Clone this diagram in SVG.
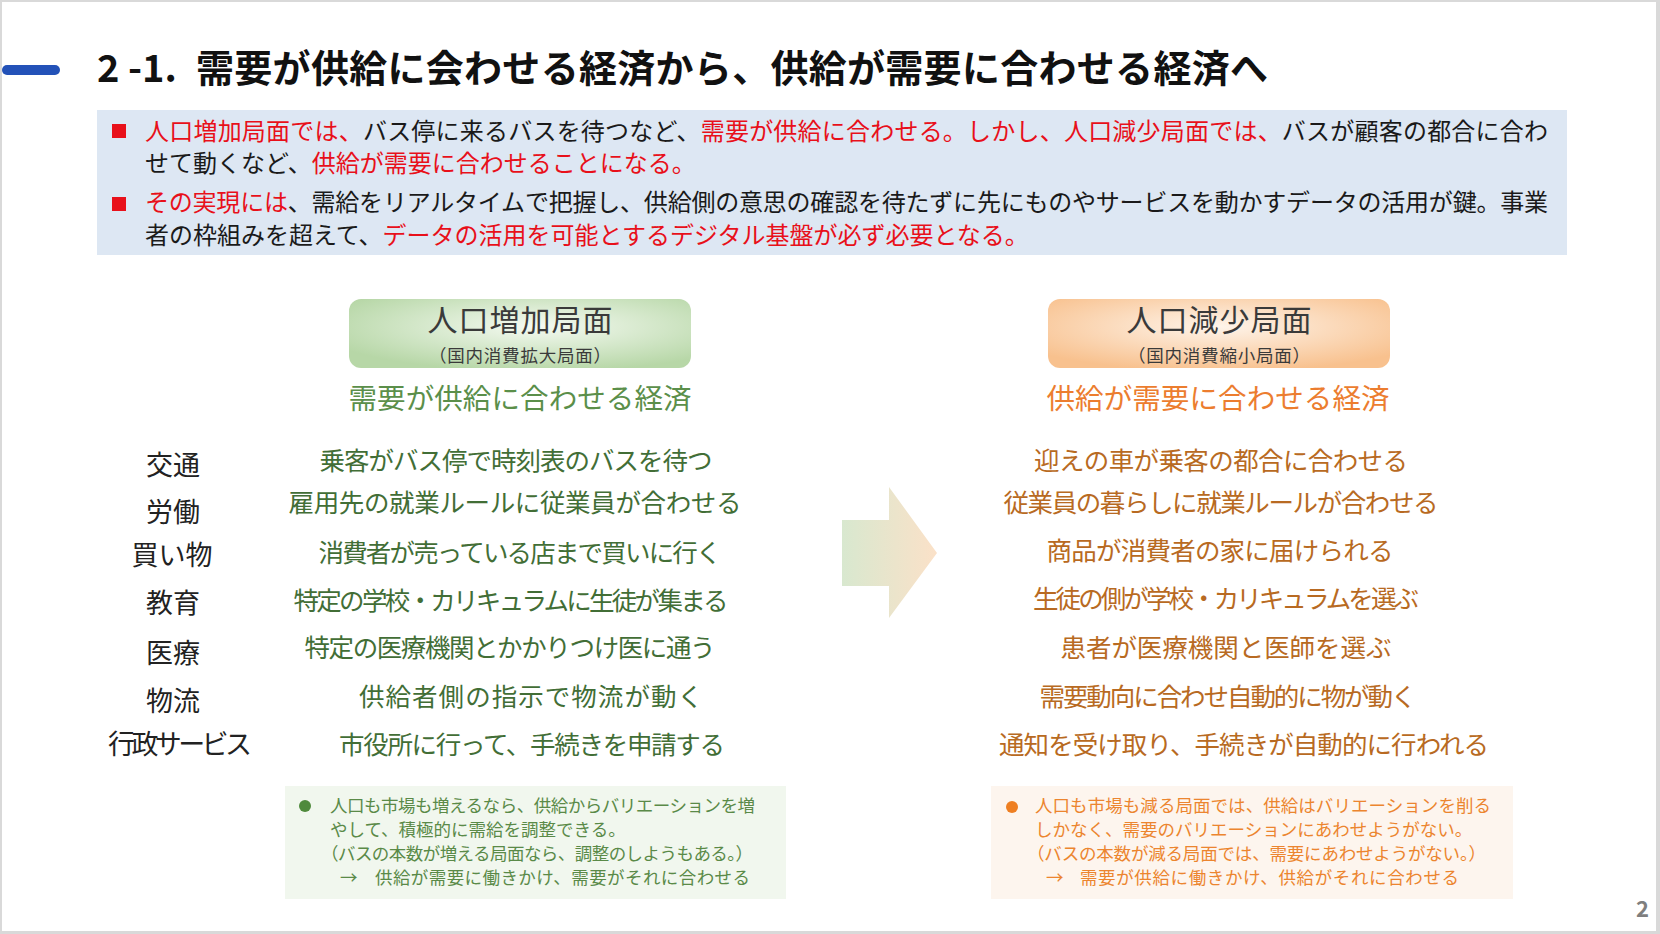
<svg xmlns="http://www.w3.org/2000/svg" width="1660" height="934" viewBox="0 0 1660 934">
<defs>
<style>
text{font-family:"Noto Sans CJK JP","Noto Sans CJK SC",sans-serif;}
.title{font-size:38px;font-weight:700;fill:#111;}
.lead{font-size:24px;fill:#1a1a1a;}
.red{fill:#e8101a;}
.hd{font-size:30px;fill:#3a3a3a;text-anchor:middle;}
.sub{font-size:17.5px;fill:#3a3a3a;text-anchor:middle;}
.gh{font-size:28.5px;fill:#5b8f4a;text-anchor:middle;}
.oh{font-size:28.5px;fill:#ec7d2f;text-anchor:middle;}
.lab{font-size:27px;fill:#222;text-anchor:middle;}
.gr{font-size:25.5px;fill:#426e36;text-anchor:middle;}
.or{font-size:25.5px;fill:#b86a22;text-anchor:middle;}
.gn{font-size:17.5px;fill:#5a8a48;}
.on{font-size:17.5px;fill:#ec852f;}
</style>
<radialGradient id="gG" cx="55%" cy="40%" r="65%">
<stop offset="0" stop-color="#f5faf2"/>
<stop offset="1" stop-color="#b7d7a7"/>
</radialGradient>
<radialGradient id="gO" cx="50%" cy="40%" r="65%">
<stop offset="0" stop-color="#fef4ea"/>
<stop offset="1" stop-color="#f8c18e"/>
</radialGradient>
<linearGradient id="gA" x1="0" y1="0" x2="1" y2="0">
<stop offset="0" stop-color="#d8e8cf"/>
<stop offset="1" stop-color="#fbe1c8"/>
</linearGradient>
</defs>
<rect x="0" y="0" width="1660" height="934" fill="#d9d9d9"/>
<rect x="2" y="2" width="1654" height="929" fill="#ffffff"/>

<g id="title">
<rect x="2" y="65" width="58" height="10" rx="5" fill="#2352b8"/>
<text class="title" x="97" y="82">2 -1.</text>
<text class="title" x="196" y="82" textLength="1072">需要が供給に会わせる経済から、供給が需要に合わせる経済へ</text>
</g>

<g id="summary">
<rect x="97" y="110" width="1470" height="145" fill="#dde7f3"/>
<rect x="112" y="124" width="14" height="14" fill="#e8101a"/>
<rect x="112" y="197" width="14" height="14" fill="#e8101a"/>
<text class="lead" x="145" y="140" textLength="1403"><tspan class="red">人口増加局面では、</tspan>バス停に来るバスを待つなど、<tspan class="red">需要が供給に合わせる。しかし、人口減少局面では、</tspan>バスが顧客の都合に合わ</text>
<text class="lead" x="145" y="172">せて動くなど、<tspan class="red">供給が需要に合わせることになる。</tspan></text>
<text class="lead" x="145" y="211" textLength="1403"><tspan class="red">その実現には</tspan>、需給をリアルタイムで把握し、供給側の意思の確認を待たずに先にものやサービスを動かすデータの活用が鍵。事業</text>
<text class="lead" x="145" y="244">者の枠組みを超えて、<tspan class="red">データの活用を可能とするデジタル基盤が必ず必要となる。</tspan></text>
</g>

<g id="growth-header">
<rect x="349" y="299" width="342" height="69" rx="12" fill="url(#gG)"/>
<text class="hd" x="520" y="331" textLength="185">人口増加局面</text>
<text class="sub" x="520" y="362" textLength="182">（国内消費拡大局面）</text>
<text class="gh" x="520" y="409" textLength="343">需要が供給に合わせる経済</text>
</g>

<g id="decline-header">
<rect x="1048" y="299" width="342" height="69" rx="12" fill="url(#gO)"/>
<text class="hd" x="1219" y="331" textLength="185">人口減少局面</text>
<text class="sub" x="1219" y="362" textLength="182">（国内消費縮小局面）</text>
<text class="oh" x="1218" y="409" textLength="343">供給が需要に合わせる経済</text>
</g>

<g id="labels">
<text class="lab" x="173" y="475">交通</text>
<text class="lab" x="173" y="522">労働</text>
<text class="lab" x="172" y="565">買い物</text>
<text class="lab" x="173" y="613">教育</text>
<text class="lab" x="173" y="663">医療</text>
<text class="lab" x="173" y="711">物流</text>
<text class="lab" x="180" y="754" textLength="144">行政サービス</text>
</g>

<g id="growth-rows">
<text class="gr" x="516" y="470" textLength="393">乗客がバス停で時刻表のバスを待つ</text>
<text class="gr" x="515" y="512" textLength="453">雇用先の就業ルールに従業員が合わせる</text>
<text class="gr" x="520" y="562" textLength="403">消費者が売っている店まで買いに行く</text>
<text class="gr" x="511" y="610" textLength="435">特定の学校・カリキュラムに生徒が集まる</text>
<text class="gr" x="510" y="657" textLength="411">特定の医療機関とかかりつけ医に通う</text>
<text class="gr" x="531" y="706" textLength="344">供給者側の指示で物流が動く</text>
<text class="gr" x="532" y="754" textLength="386">市役所に行って、手続きを申請する</text>
</g>

<g id="decline-rows">
<text class="or" x="1221" y="470" textLength="374">迎えの車が乗客の都合に合わせる</text>
<text class="or" x="1221" y="512" textLength="435">従業員の暮らしに就業ルールが合わせる</text>
<text class="or" x="1220" y="560" textLength="347">商品が消費者の家に届けられる</text>
<text class="or" x="1226" y="608" textLength="386">生徒の側が学校・カリキュラムを選ぶ</text>
<text class="or" x="1226" y="657" textLength="331">患者が医療機関と医師を選ぶ</text>
<text class="or" x="1228" y="706" textLength="377">需要動向に合わせ自動的に物が動く</text>
<text class="or" x="1244" y="754" textLength="490">通知を受け取り、手続きが自動的に行われる</text>
</g>

<g id="connectors">
<polygon points="842,520 889,520 889,487 937,553 889,618 889,586 842,586" fill="url(#gA)"/>
</g>

<g id="growth-note">
<rect x="285" y="786" width="501" height="113" fill="#f1f7ee"/>
<circle cx="305" cy="806" r="6" fill="#4f8a3c"/>
<text class="gn" x="330" y="812" textLength="425">人口も市場も増えるなら、供給からバリエーションを増</text>
<text class="gn" x="330" y="836">やして、積極的に需給を調整できる。</text>
<text class="gn" x="321" y="860" textLength="432">（バスの本数が増える局面なら、調整のしようもある。）</text>
<text class="gn" x="340" y="884">→</text>
<text class="gn" x="375" y="884" textLength="375">供給が需要に働きかけ、需要がそれに合わせる</text>
</g>

<g id="decline-note">
<rect x="991" y="786" width="522" height="113" fill="#fdf5ee"/>
<circle cx="1012" cy="807" r="6" fill="#ee7f22"/>
<text class="on" x="1035" y="812" textLength="456">人口も市場も減る局面では、供給はバリエーションを削る</text>
<text class="on" x="1035" y="836">しかなく、需要のバリエーションにあわせようがない。</text>
<text class="on" x="1027" y="860" textLength="459">（バスの本数が減る局面では、需要にあわせようがない。）</text>
<text class="on" x="1046" y="884">→</text>
<text class="on" x="1080" y="884" textLength="379">需要が供給に働きかけ、供給がそれに合わせる</text>
</g>

<g id="page-number">
<text x="1649" y="917" font-size="22" font-weight="700" fill="#7f7f7f" text-anchor="end">2</text>
</g>
</svg>
